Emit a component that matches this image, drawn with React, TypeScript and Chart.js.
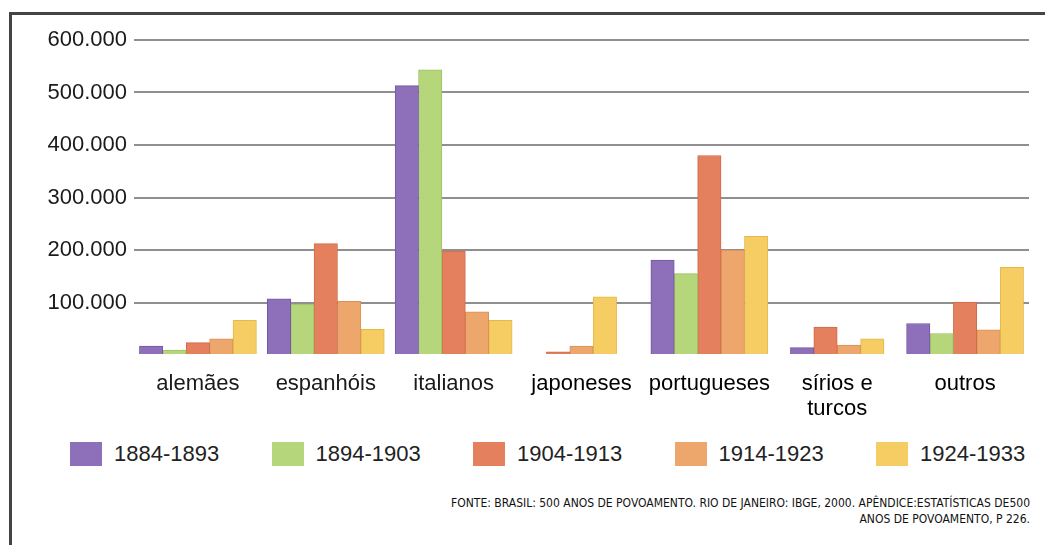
import React, { useEffect, useRef } from 'react';
import { Chart, registerables } from 'chart.js';

Chart.register(...registerables);

// ---- data ----
const categories: (string | string[])[] = [
  'alemães',
  'espanhóis',
  'italianos',
  'japoneses',
  'portugueses',
  ['sírios e', 'turcos'],
  'outros',
];
const periods = ['1884-1893', '1894-1903', '1904-1913', '1914-1923', '1924-1933'];
const s1884_1893 = [17000, 107000, 513000, null, 181000, 14000, 60000];
const s1894_1903 = [9500, 97000, 543000, null, 155000, null, 41000];
const s1904_1913 = [23500, 212000, 198000, 6000, 380000, 53000, 101000];
const s1914_1923 = [31000, 102000, 82000, 17000, 200000, 19000, 48000];
const s1924_1933 = [66000, 49000, 66000, 111000, 226000, 31000, 167000];
const yMax = 600000;
const yStep = 100000;
const sourceLines = [
  'FONTE: BRASIL: 500 ANOS DE POVOAMENTO.  RIO DE JANEIRO: IBGE, 2000. APÊNDICE:ESTATÍSTICAS DE500',
  'ANOS DE POVOAMENTO, P 226.',
];

// ---- styles ----
const series = [s1884_1893, s1894_1903, s1904_1913, s1914_1923, s1924_1933];
const fills = ['#8e6fba', '#b6d67c', '#e5805e', '#eda76c', '#f6cd62'];
const borders = ['#7458a3', '#9dc061', '#cf6a4a', '#d99056', '#e6b84a'];
const FONT = '"Liberation Sans", Arial, Helvetica, sans-serif';

const fmt = (v: number) => String(v).replace(/\B(?=(\d{3})+(?!\d))/g, '.');

function BarChart() {
  const ref = useRef<HTMLCanvasElement | null>(null);
  useEffect(() => {
    if (!ref.current) return;
    const chart = new Chart(ref.current, {
      type: 'bar',
      data: {
        labels: categories as any,
        datasets: series.map((d, i) => ({
          label: periods[i],
          data: d as any,
          backgroundColor: fills[i],
          borderColor: borders[i],
          borderWidth: 1,
          barThickness: 23.4,
          skipNull: true,
        })),
      },
      options: {
        animation: false,
        responsive: false,
        devicePixelRatio: 1,
        layout: { padding: { left: 0, right: 16, top: 40, bottom: 3 } },
        plugins: {
          legend: { display: false },
          tooltip: { enabled: false },
          title: { display: false },
        },
        scales: {
          x: {
            grid: { display: false, drawTicks: false },
            border: { display: false },
            ticks: {
              font: { family: FONT, size: 22, lineHeight: 25 / 22 },
              color: (ctx: any) => (ctx.index >= 3 ? '#000' : '#1a1a1a'),
              padding: 16,
              maxRotation: 0,
              autoSkip: false,
            },
          },
          y: {
            min: 0,
            max: yMax,
            afterFit: (s: any) => {
              s.width = 134;
            },
            grid: {
              color: (ctx: any) => (ctx.tick && ctx.tick.value === 0 ? 'rgba(0,0,0,0)' : '#8f8f8f'),
              lineWidth: 2,
              drawTicks: false,
            },
            border: { display: false },
            ticks: {
              stepSize: yStep,
              padding: 7,
              font: { family: FONT, size: 22 },
              color: '#1a1a1a',
              callback: (v: any) => (Number(v) === 0 ? '' : fmt(Number(v))),
            },
          },
        },
      },
    });
    return () => chart.destroy();
  }, []);
  return (
    <canvas
      ref={ref}
      width={1045}
      height={440}
      style={{ position: 'absolute', left: 0, top: 0, width: 1045, height: 440, display: 'block' }}
    />
  );
}

export default function App() {
  return (
    <div
      style={{
        position: 'absolute',
        left: 0,
        top: 0,
        width: 1045,
        height: 545,
        overflow: 'hidden',
        background: '#fff',
        fontFamily: FONT,
      }}
    >
      <div
        style={{
          position: 'absolute',
          left: 9,
          top: 12,
          width: 1045,
          height: 545,
          borderTop: '3px solid #444',
          borderLeft: '3px solid #444',
          boxSizing: 'border-box',
        }}
      />
      <BarChart />
      {periods.map((p, i) => (
        <div
          key={p}
          style={{
            position: 'absolute',
            left: 70 + i * 201.5,
            top: 442,
            height: 24,
            display: 'flex',
            alignItems: 'center',
            whiteSpace: 'nowrap',
          }}
        >
          <div style={{ width: 32, height: 24, background: fills[i], flex: 'none' }} />
          <span style={{ marginLeft: 12, fontSize: 22, color: '#222', lineHeight: '24px' }}>{p}</span>
        </div>
      ))}
      <div
        style={{
          position: 'absolute',
          right: 15,
          top: 495,
          textAlign: 'right',
          fontFamily: '"Liberation Sans Narrow", "DejaVu Sans Condensed", sans-serif',
          fontSize: 12,
          lineHeight: '16px',
          color: '#111',
          whiteSpace: 'nowrap',
        }}
      >
        {sourceLines.map((l) => (
          <div key={l}>{l}</div>
        ))}
      </div>
    </div>
  );
}
